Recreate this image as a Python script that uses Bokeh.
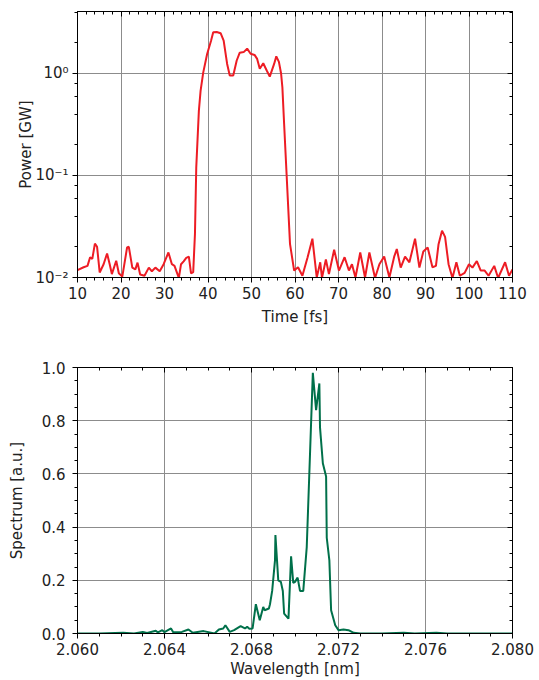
from bokeh.plotting import figure
from bokeh.layouts import column
from bokeh.models import (Range1d, LinearAxis, LogAxis, SingleIntervalTicker, LogTicker,
                          CustomJSTickFormatter, PrintfTickFormatter)
from bokeh.embed import file_html
from bokeh.resources import INLINE

# ---------------- data ----------------
time_fs = [10.0, 11.4, 12.3, 12.9, 13.4, 14.0, 14.5, 15.1, 16.0, 16.8, 17.4, 17.9, 18.9, 19.5,
           20.3, 21.4, 21.8, 22.6, 23.3, 23.8, 24.4, 25.4, 26.4, 27.1, 27.9, 28.9, 29.8, 30.9,
           31.7, 32.3, 33.3, 33.8, 34.4, 35.0, 35.6, 36.1, 36.6, 37.0, 37.3, 37.9, 38.3, 38.9,
           39.8, 40.7, 41.2, 42.0, 42.9, 43.6, 44.4, 45.0, 45.8, 46.6, 47.3, 48.2, 49.0, 49.8,
           50.7, 51.3, 51.9, 52.7, 53.5, 54.2, 55.2, 55.7, 56.3, 56.8, 57.1, 57.5, 58.1, 58.85,
           59.8, 60.7, 61.7, 62.9, 64.0, 65.0, 65.8, 66.2, 67.1, 67.8, 69.0, 70.1, 71.4, 72.4,
           73.1, 73.9, 75.0, 76.1, 77.1, 78.4, 79.4, 80.5, 81.7, 82.8, 83.4, 84.3, 85.3, 86.3,
           87.6, 88.6, 89.5, 90.5, 91.6, 92.4, 93.0, 93.8, 94.5, 95.3, 96.2, 97.1, 97.9, 99.0,
           100.0, 100.8, 101.8, 102.7, 103.6, 104.5, 105.8, 106.7, 108.3, 109.2, 110.0]
power_gw = [0.0118, 0.0126, 0.013, 0.0158, 0.0152, 0.0215, 0.02, 0.0112, 0.0135, 0.0172, 0.0135,
            0.0108, 0.0146, 0.011, 0.0102, 0.0197, 0.02, 0.0125, 0.012, 0.014, 0.0107, 0.0104,
            0.0125, 0.0115, 0.0125, 0.0115, 0.0135, 0.0176, 0.0135, 0.013, 0.0099, 0.0135,
            0.0144, 0.0156, 0.016, 0.011, 0.0113, 0.0266, 0.12, 0.43, 0.68, 1.02,
            1.55, 2.09, 2.54, 2.55, 2.48, 2.1, 1.24, 0.955, 0.955, 1.34, 1.6, 1.62, 1.75, 1.56,
            1.52, 1.39, 1.11, 1.26, 1.07, 0.93, 1.24, 1.47, 1.3, 1.0, 0.73, 0.32, 0.096, 0.0214,
            0.0117, 0.0126, 0.0104, 0.0158, 0.024, 0.0100, 0.0141, 0.0099, 0.015, 0.0108, 0.0187,
            0.0117, 0.0158, 0.0117, 0.0135, 0.0100, 0.0176, 0.0100, 0.0176, 0.0099, 0.0135,
            0.0161, 0.0100, 0.016, 0.019, 0.0125, 0.016, 0.0141, 0.024, 0.0125, 0.018, 0.0197,
            0.0126, 0.013, 0.0212, 0.0288, 0.025, 0.0135, 0.0099, 0.0141, 0.0104, 0.0111,
            0.0135, 0.0125, 0.0145, 0.0117, 0.0117, 0.0104, 0.013, 0.0099, 0.0141, 0.0104, 0.012]

wavelength_nm = [2.060, 2.061, 2.0621, 2.0626, 2.063, 2.0632, 2.0636, 2.0637, 2.0639, 2.0640,
                 2.0643, 2.0644, 2.0648, 2.0651, 2.0653, 2.0658, 2.0663, 2.0665, 2.0667, 2.0668,
                 2.0670, 2.0672, 2.0675, 2.0677, 2.0678, 2.0679, 2.06805, 2.0682, 2.06838,
                 2.06854, 2.0686, 2.0688, 2.06885, 2.06895, 2.06908, 2.0691, 2.06923, 2.06935,
                 2.06944, 2.0695, 2.0697, 2.06982, 2.06992, 2.0700, 2.07012, 2.07023, 2.07038,
                 2.07054, 2.07069, 2.07082, 2.07097, 2.07112, 2.07115, 2.07128, 2.07143, 2.07146,
                 2.07158, 2.07166, 2.07185, 2.072, 2.07223, 2.07246, 2.0727, 2.073, 2.074, 2.075,
                 2.0755, 2.0765, 2.077, 2.080]
spectrum_au = [0.0, 0.0, 0.003, 0.0, 0.006, 0.002, 0.01, 0.004, 0.0125, 0.005,
               0.019, 0.005, 0.006, 0.015, 0.003, 0.009, 0.0, 0.015, 0.019, 0.031,
               0.006, 0.0125, 0.0275, 0.019, 0.025, 0.0175, 0.019, 0.11, 0.05,
               0.10, 0.0875, 0.094, 0.11, 0.16, 0.275, 0.37, 0.20, 0.194,
               0.16, 0.075, 0.056, 0.29, 0.19, 0.194, 0.21, 0.16, 0.16,
               0.325, 0.675, 0.98, 0.84, 0.94, 0.775, 0.64, 0.59, 0.36,
               0.275, 0.0875, 0.031, 0.0125, 0.015, 0.0125, 0.0025, 0.0, 0.0, 0.003,
               0.0, 0.003, 0.0, 0.0]

time_label = "Time [fs]"
power_label = "Power [GW]"
wave_label = "Wavelength [nm]"
spec_label = "Spectrum [a.u.]"

FONT = "DejaVu Sans"
FS = "15px"
GRID = "#8c8c8c"
TXT = "#222222"


def style(ax, outside=True, labels=True):
    ax.axis_line_color = "black"
    ax.major_tick_line_color = "black"
    ax.minor_tick_line_color = "black"
    if outside:
        ax.major_tick_out, ax.major_tick_in = 5, 0
        ax.minor_tick_out, ax.minor_tick_in = 3, 0
    else:
        ax.major_tick_out, ax.major_tick_in = 0, 5
        ax.minor_tick_out, ax.minor_tick_in = 0, 3
    ax.major_label_text_font = FONT
    ax.major_label_text_font_size = FS
    ax.major_label_text_color = TXT
    ax.axis_label_text_font = FONT
    ax.axis_label_text_font_size = FS
    ax.axis_label_text_font_style = "normal"
    ax.axis_label_text_color = TXT
    if not labels:
        ax.major_label_text_font_size = "1px"
        ax.major_label_text_color = None
        ax.major_label_standoff = 0


sup_js = """
const e = Math.round(Math.log10(tick));
const m = {'-': '\u207b', '0': '\u2070', '1': '\u00b9', '2': '\u00b2', '3': '\u00b3'};
return '10' + String(e).split('').map(c => m[c]).join('');
"""

# ---------------- top: power vs time ----------------
p1 = figure(width=539, height=340, x_range=Range1d(10, 110), y_range=Range1d(0.01, 4.05),
            y_axis_type="log", output_backend="svg", toolbar_location=None,
            min_border_left=77, min_border_right=27, min_border_top=11, min_border_bottom=63)
p1.outline_line_color = "black"
p1.background_fill_color = "white"
p1.border_fill_color = "white"

xt1 = SingleIntervalTicker(interval=10, num_minor_ticks=5)
p1.xaxis.ticker = xt1
p1.xgrid.ticker = xt1
p1.xaxis.axis_label = time_label
p1.yaxis.axis_label = power_label
p1.yaxis.ticker = LogTicker()
p1.yaxis.formatter = CustomJSTickFormatter(code=sup_js)
for ax in p1.xaxis:
    style(ax)
    ax.major_label_standoff = 4
    ax.axis_label_standoff = 6
for ax in p1.yaxis:
    style(ax)
    ax.major_label_standoff = 4
    ax.axis_label_standoff = -3
p1.xgrid.grid_line_color = GRID
p1.ygrid.grid_line_color = GRID

top1 = LinearAxis(ticker=SingleIntervalTicker(interval=10, num_minor_ticks=5))
style(top1, outside=False, labels=False)
p1.add_layout(top1, "above")
right1 = LogAxis(ticker=LogTicker())
style(right1, outside=False, labels=False)
p1.add_layout(right1, "right")

p1.line(time_fs, power_gw, line_color="#ed1c24", line_width=2)

# ---------------- bottom: spectrum ----------------
p2 = figure(width=539, height=340, x_range=Range1d(2.060, 2.080), y_range=Range1d(0.0, 1.0),
            output_backend="svg", toolbar_location=None,
            min_border_left=77, min_border_right=27, min_border_top=27, min_border_bottom=47)
p2.outline_line_color = "black"
p2.background_fill_color = "white"
p2.border_fill_color = "white"

xt2 = SingleIntervalTicker(interval=0.004, num_minor_ticks=4)
yt2 = SingleIntervalTicker(interval=0.2, num_minor_ticks=4)
p2.xaxis.ticker = xt2
p2.xgrid.ticker = xt2
p2.yaxis.ticker = yt2
p2.ygrid.ticker = yt2
p2.xaxis.formatter = PrintfTickFormatter(format="%.3f")
p2.yaxis.formatter = PrintfTickFormatter(format="%.1f")
p2.xaxis.axis_label = wave_label
p2.yaxis.axis_label = spec_label
for ax in p2.xaxis:
    style(ax)
    ax.major_label_standoff = 4
    ax.axis_label_standoff = 2
for ax in p2.yaxis:
    style(ax)
    ax.major_label_standoff = 7
    ax.axis_label_standoff = 13
p2.xgrid.grid_line_color = GRID
p2.ygrid.grid_line_color = GRID

top2 = LinearAxis(ticker=SingleIntervalTicker(interval=0.004, num_minor_ticks=4))
style(top2, outside=False, labels=False)
p2.add_layout(top2, "above")
right2 = LinearAxis(ticker=SingleIntervalTicker(interval=0.2, num_minor_ticks=4))
style(right2, outside=False, labels=False)
p2.add_layout(right2, "right")

p2.line(wavelength_nm, spectrum_au, line_color="#00704a", line_width=2)

layout = column(p1, p2)
open("out.html", "w").write(file_html(layout, INLINE))
